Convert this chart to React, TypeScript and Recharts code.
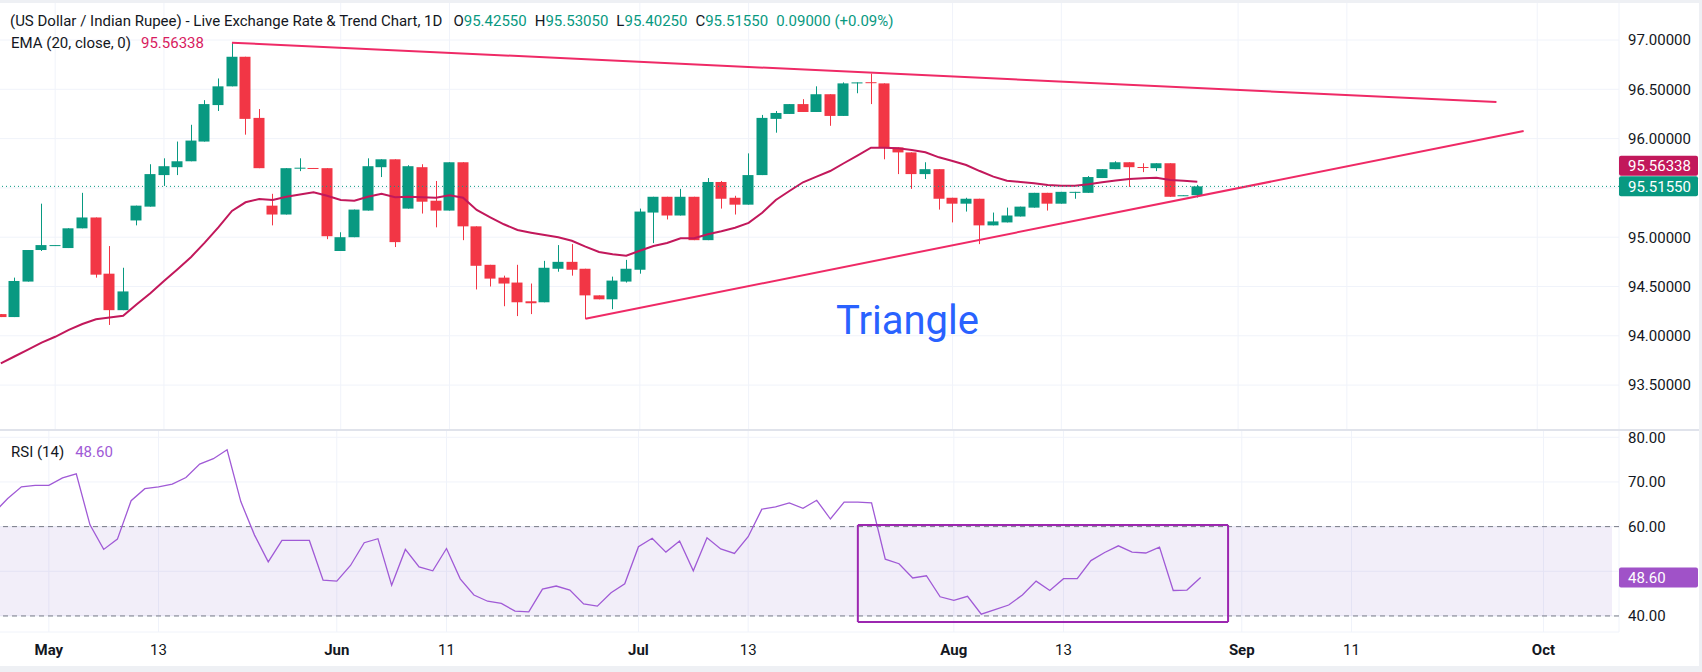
import React from "react";
import {
  ComposedChart,
  Bar,
  Line,
  XAxis,
  YAxis,
  CartesianGrid,
  ReferenceLine,
  ReferenceArea,
} from "recharts";

const GREEN = "#089981";
const RED = "#f23645";
const EMA_COLOR = "#c2185b";
const TREND_COLOR = "#ef2a66";
const RSI_COLOR = "#a05ad6";
const TEXT = "#131722";
const GRID = "#f0f3fa";

// one slot per trading day, plus empty space to the right of the last bar
const SLOTS = 119;

const tickIndex = [4, 12, 25, 33, 47, 55, 70, 78, 91, 99, 113];
const tickLabels = ["May", "13", "Jun", "11", "Jul", "13", "Aug", "13", "Sep", "11", "Oct"];

const priceTicks = [93.5, 94, 94.5, 95, 95.5, 96, 96.5, 97];
const rsiTicks = [40, 50, 60, 70, 80];
// scale labels covered by the last-value tags
const coveredPrice = [95.5];
const coveredRsi = [50];

const opens = [
  94.22, 94.19, 94.55, 94.87, 94.915, 94.89, 95.09, 95.2, 94.63, 94.26,
  95.17, 95.31, 95.63, 95.71, 95.77, 95.97, 96.34, 96.53, 96.83, 96.21,
  95.32, 95.23, 95.7, 95.702, 95.7, 94.86, 95.0, 95.27, 95.71, 95.79,
  95.29, 95.71, 95.37, 95.27, 95.76, 95.11, 94.72, 94.59, 94.54, 94.35,
  94.34, 94.68, 94.75, 94.68, 94.41, 94.37, 94.55, 94.67, 95.25, 95.41,
  95.22, 95.41, 94.97, 95.56, 95.4, 95.33, 95.63, 96.2, 96.25, 96.35,
  96.27, 96.45, 96.23, 96.565, 96.572, 96.56, 95.91, 95.86, 95.64, 95.69,
  95.4, 95.34, 95.39, 95.12, 95.15, 95.21, 95.3, 95.45, 95.34, 95.455,
  95.45, 95.6, 95.69, 95.76, 95.712, 95.7, 95.75, 95.42, 95.4255,
];
const highs = [
  94.22, 94.59, 94.87, 95.34, 94.92, 95.09, 95.45, 95.2, 94.91, 94.69,
  95.32, 95.74, 95.8, 95.97, 96.14, 96.39, 96.61, 96.97, 96.83, 96.3,
  95.44, 95.7, 95.8, 95.702, 95.7, 95.05, 95.28, 95.8, 95.79, 95.79,
  95.73, 95.74, 95.57, 95.76, 95.76, 95.11, 94.72, 94.61, 94.72, 94.53,
  94.76, 94.92, 94.93, 94.68, 94.41, 94.6, 94.77, 95.29, 95.41, 95.41,
  95.49, 95.41, 95.6, 95.57, 95.42, 95.85, 96.24, 96.28, 96.35, 96.4,
  96.53, 96.45, 96.57, 96.57, 96.66, 96.56, 95.91, 95.86, 95.76, 95.69,
  95.4, 95.4, 95.39, 95.25, 95.3, 95.31, 95.45, 95.45, 95.46, 95.46,
  95.62, 95.69, 95.77, 95.76, 95.75, 95.75, 95.75, 95.4255, 95.5305,
];
const lows = [
  94.19, 94.19, 94.55, 94.86, 94.915, 94.89, 95.09, 94.59, 94.11, 94.26,
  95.12, 95.31, 95.52, 95.63, 95.77, 95.97, 96.28, 96.53, 96.04, 95.7,
  95.12, 95.23, 95.67, 95.7, 94.98, 94.86, 95.0, 95.27, 95.61, 94.9,
  95.29, 95.24, 95.1, 95.27, 94.97, 94.47, 94.5, 94.3, 94.2, 94.22,
  94.34, 94.65, 94.61, 94.17, 94.37, 94.27, 94.54, 94.63, 94.94, 95.18,
  95.22, 94.97, 94.97, 95.29, 95.23, 95.33, 95.63, 96.06, 96.25, 96.27,
  96.27, 96.13, 96.23, 96.46, 96.35, 95.79, 95.64, 95.49, 95.59, 95.28,
  95.15, 95.26, 94.93, 95.12, 95.15, 95.21, 95.3, 95.27, 95.34, 95.39,
  95.45, 95.6, 95.69, 95.51, 95.66, 95.67, 95.41, 95.42, 95.4025,
];
const closes = [
  94.19, 94.556, 94.87, 94.92, 94.92, 95.09, 95.2, 94.62, 94.26, 94.45,
  95.32, 95.64, 95.72, 95.77, 95.98, 96.35, 96.53, 96.83, 96.2, 95.7,
  95.23, 95.7, 95.705, 95.7, 95.01, 95.0, 95.28, 95.72, 95.79, 94.95,
  95.72, 95.36, 95.27, 95.76, 95.11, 94.71, 94.58, 94.53, 94.34, 94.33,
  94.69, 94.75, 94.67, 94.41, 94.37, 94.56, 94.68, 95.26, 95.41, 95.22,
  95.41, 94.97, 95.56, 95.39, 95.33, 95.63, 96.21, 96.26, 96.35, 96.27,
  96.45, 96.23, 96.56, 96.57, 96.57, 95.91, 95.86, 95.64, 95.69, 95.39,
  95.34, 95.39, 95.12, 95.16, 95.22, 95.31, 95.45, 95.34, 95.46, 95.46,
  95.61, 95.69, 95.76, 95.71, 95.71, 95.75, 95.41, 95.4255, 95.5155,
];
const emaValues = [
  93.72, 93.79, 93.86, 93.93, 93.99, 94.06, 94.12, 94.167, 94.185, 94.204,
  94.32, 94.431, 94.555, 94.675, 94.8, 94.945, 95.1, 95.266, 95.354, 95.387,
  95.377, 95.411, 95.433, 95.455, 95.421, 95.377, 95.37, 95.411, 95.44, 95.405,
  95.411, 95.405, 95.401, 95.425, 95.401, 95.276, 95.202, 95.131, 95.073, 95.046,
  95.022, 94.999, 94.964, 94.904, 94.85, 94.827, 94.812, 94.863, 94.911, 94.941,
  94.989, 94.99, 95.03, 95.06, 95.096, 95.145, 95.248, 95.377, 95.469, 95.557,
  95.614, 95.671, 95.75, 95.827, 95.908, 95.908, 95.902, 95.884, 95.861, 95.81,
  95.773, 95.732, 95.671, 95.614, 95.573, 95.56, 95.547, 95.529, 95.522, 95.522,
  95.537, 95.557, 95.575, 95.59, 95.597, 95.603, 95.58, 95.573, 95.563,
];
const rsiValues = [
  63.1, 66.3, 68.9, 69.25, 69.25, 70.9, 71.8, 60.4, 54.9, 57.2,
  65.8, 68.5, 68.9, 69.5, 71.0, 74.0, 75.2, 77.2, 65.6, 58.1,
  52.1, 56.9, 56.9, 56.9, 48.0, 47.8, 51.3, 56.4, 57.3, 46.9,
  54.9, 51.0, 50.1, 55.1, 48.3, 44.7, 43.3, 42.8, 41.1, 40.9,
  46.0, 46.7, 45.8, 42.7, 42.2, 45.2, 47.2, 55.5, 57.4, 54.3,
  56.8, 50.1, 57.5, 55.0, 54.0, 57.75, 63.9, 64.4, 65.3, 64.1,
  65.9, 61.7, 65.5, 65.5, 65.3, 52.7, 51.7, 48.5, 49.0, 44.3,
  43.5, 44.4, 40.4, 41.4, 42.45, 44.7, 47.8, 45.7, 48.35, 48.35,
  52.4, 54.2, 55.7, 54.3, 54.1, 55.4, 45.7, 45.8, 48.6,
];

// trend lines drawn on the price pane: [bar index, price]
const upperTrend = [
  { x: 17, y: 96.973 },
  { x: 110, y: 96.371 },
];
const lowerTrend = [
  { x: 43, y: 94.173 },
  { x: 112, y: 96.077 },
];
// highlight box on the RSI pane
const rsiBox = { x1: 63, x2: 90, top: 60.37, bottom: 38.65 };

const lastClose = 95.5155;
const lastEma = 95.56338;
const lastRsi = 48.6;

const rows = Array.from({ length: SLOTS }, (_, i) => ({
  i,
  open: opens[i],
  high: highs[i],
  low: lows[i],
  close: closes[i],
  ema: emaValues[i],
  rsi: rsiValues[i],
}));

const candleRange = (d) => (d.high == null ? null : [d.low, d.high]);

function Candle(props) {
  const { x, y, width, height, payload } = props;
  if (!payload || payload.high == null) return null;
  const { open, close, high, low } = payload;
  const top = Math.min(y, y + height);
  const span = Math.abs(height);
  const range = high - low;
  const toY = (v) => (range === 0 ? top : top + ((high - v) / range) * span);
  const cx = Math.round(x + width / 2) + 0.5;
  const color = close >= open ? GREEN : RED;
  const bodyTop = toY(Math.max(open, close));
  const bodyBottom = toY(Math.min(open, close));
  return (
    <g>
      <line x1={cx} x2={cx} y1={top} y2={top + span} stroke={color} strokeWidth={1} />
      <rect
        x={cx - 0.5 - width / 2}
        y={bodyTop}
        width={width}
        height={Math.max(1, bodyBottom - bodyTop)}
        fill={color}
      />
    </g>
  );
}

function ScaleTag(props) {
  const { viewBox, text, fill, shift = 0 } = props;
  if (!viewBox) return null;
  const left = viewBox.x + viewBox.width;
  const cy = viewBox.y + shift;
  return (
    <g>
      <rect x={left} y={cy - 10} width={79} height={20} rx={2} fill={fill} />
      <text x={left + 9} y={cy} dy="0.355em" fill="#ffffff" fontSize={15}>
        {text}
      </text>
    </g>
  );
}

function ScaleTick(props) {
  const { x, y, payload, digits, covered } = props;
  if (covered.includes(payload.value)) return null;
  return (
    <text x={x} y={y} dy="0.355em" textAnchor="start" fill={TEXT} fontSize={15}>
      {payload.value.toFixed(digits)}
    </text>
  );
}

function DateTick(props) {
  const { x, y, payload } = props;
  const label = tickLabels[tickIndex.indexOf(payload.value)];
  const isMonth = isNaN(Number(label));
  return (
    <text
      x={x}
      y={y + 23}
      textAnchor="middle"
      fill={TEXT}
      fontSize={15}
      fontWeight={isMonth ? 700 : 400}
    >
      {label}
    </text>
  );
}

const margin = { top: 0, right: 0, bottom: 0, left: -6 };

export default function App() {
  return (
    <div
      style={{
        position: "absolute",
        left: 0,
        top: 0,
        width: 1702,
        height: 672,
        overflow: "hidden",
        background: "#ffffff",
        fontFamily: "Roboto, 'Noto Sans', sans-serif",
        color: TEXT,
      }}
    >
      {/* Price pane */}
      <div style={{ position: "absolute", left: 0, top: 0 }}>
        <ComposedChart width={1702} height={430} data={rows} margin={margin}>
          <CartesianGrid stroke={GRID} />
          <XAxis
            dataKey="i"
            type="category"
            hide
            ticks={tickIndex}
            interval={0}
            padding={{ left: 0, right: 7 }}
          />
          <YAxis
            orientation="right"
            width={83}
            domain={[93.0446, 97.4057]}
            allowDataOverflow
            ticks={priceTicks}
            interval={0}
            axisLine={false}
            tickLine={false}
            tickSize={0}
            tickMargin={9}
            tick={<ScaleTick digits={5} covered={coveredPrice} />}
          />
          <Bar
            dataKey={candleRange}
            barSize={11}
            shape={<Candle />}
            isAnimationActive={false}
          />
          <Line
            dataKey="ema"
            stroke={EMA_COLOR}
            strokeWidth={2}
            dot={false}
            activeDot={false}
            isAnimationActive={false}
          />
          <ReferenceLine segment={upperTrend} stroke={TREND_COLOR} strokeWidth={2} />
          <ReferenceLine segment={lowerTrend} stroke={TREND_COLOR} strokeWidth={2} />
          <ReferenceLine
            y={lastEma}
            stroke="none"
            label={<ScaleTag text="95.56338" fill={EMA_COLOR} shift={-16} />}
          />
          <ReferenceLine
            y={lastClose}
            stroke={GREEN}
            strokeDasharray="1 3"
            label={<ScaleTag text="95.51550" fill={GREEN} />}
          />
        </ComposedChart>
      </div>

      {/* RSI pane */}
      <div style={{ position: "absolute", left: 0, top: 430 }}>
        <ComposedChart width={1702} height={242} data={rows} margin={margin}>
          <CartesianGrid stroke={GRID} />
          <XAxis
            dataKey="i"
            type="category"
            height={40}
            ticks={tickIndex}
            interval={0}
            padding={{ left: 0, right: 7 }}
            axisLine={false}
            tickLine={false}
            tickSize={0}
            tickMargin={0}
            tick={<DateTick />}
          />
          <YAxis
            orientation="right"
            width={83}
            domain={[36.41, 81.63]}
            allowDataOverflow
            ticks={rsiTicks}
            interval={0}
            axisLine={false}
            tickLine={false}
            tickSize={0}
            tickMargin={9}
            tick={<ScaleTick digits={2} covered={coveredRsi} />}
          />
          <ReferenceArea y1={40} y2={60} fill="#7e57c2" fillOpacity={0.1} stroke="none" />
          <ReferenceLine y={60} stroke="#787b86" strokeDasharray="5 4" />
          <ReferenceLine y={40} stroke="#787b86" strokeDasharray="5 4" />
          <Line
            dataKey="rsi"
            stroke={RSI_COLOR}
            strokeWidth={1.3}
            dot={false}
            activeDot={false}
            isAnimationActive={false}
          />
          <ReferenceLine
            segment={[{ x: rsiBox.x1, y: rsiBox.top }, { x: rsiBox.x2, y: rsiBox.top }]}
            stroke="#9c27b0"
            strokeWidth={2}
          />
          <ReferenceLine
            segment={[{ x: rsiBox.x1, y: rsiBox.bottom }, { x: rsiBox.x2, y: rsiBox.bottom }]}
            stroke="#9c27b0"
            strokeWidth={2}
          />
          <ReferenceLine
            segment={[{ x: rsiBox.x1, y: rsiBox.top }, { x: rsiBox.x1, y: rsiBox.bottom }]}
            stroke="#9c27b0"
            strokeWidth={2}
          />
          <ReferenceLine
            segment={[{ x: rsiBox.x2, y: rsiBox.top }, { x: rsiBox.x2, y: rsiBox.bottom }]}
            stroke="#9c27b0"
            strokeWidth={2}
          />
          <ReferenceLine
            y={lastRsi}
            stroke="none"
            label={<ScaleTag text="48.60" fill="#a052c8" />}
          />
        </ComposedChart>
      </div>

      {/* Pane separator and frame */}
      <div style={{ position: "absolute", left: 0, top: 429, width: 1702, height: 2, background: "#e0e3eb" }} />
      <div style={{ position: "absolute", left: 0, top: 0, width: 1702, height: 3, background: "#eef0f4" }} />
      <div style={{ position: "absolute", left: 0, top: 666, width: 1702, height: 6, background: "#eef0f4" }} />
      <div style={{ position: "absolute", left: 1699, top: 0, width: 3, height: 672, background: "#eef0f4" }} />

      {/* Legends */}
      <div style={{ position: "absolute", left: 10, top: 11, fontSize: 15, lineHeight: "20px", whiteSpace: "nowrap" }}>
        (US Dollar / Indian Rupee) - Live Exchange Rate &amp; Trend Chart, 1D
        <span style={{ marginLeft: 11 }}>O</span>
        <span style={{ color: GREEN }}>95.42550</span>
        <span style={{ marginLeft: 8 }}>H</span>
        <span style={{ color: GREEN }}>95.53050</span>
        <span style={{ marginLeft: 8 }}>L</span>
        <span style={{ color: GREEN }}>95.40250</span>
        <span style={{ marginLeft: 8 }}>C</span>
        <span style={{ color: GREEN }}>95.51550</span>
        <span style={{ marginLeft: 8, color: GREEN }}>0.09000 (+0.09%)</span>
      </div>
      <div style={{ position: "absolute", left: 11, top: 33, fontSize: 15, lineHeight: "20px", whiteSpace: "nowrap" }}>
        EMA (20, close, 0)
        <span style={{ marginLeft: 10, color: "#d81b60" }}>95.56338</span>
      </div>
      <div style={{ position: "absolute", left: 11, top: 442, fontSize: 15, lineHeight: "20px", whiteSpace: "nowrap" }}>
        RSI (14)
        <span style={{ marginLeft: 11, color: RSI_COLOR }}>48.60</span>
      </div>

      {/* Drawing label */}
      <div style={{ position: "absolute", left: 836, top: 301, fontSize: 40, lineHeight: "40px", color: "#2962ff" }}>
        Triangle
      </div>
    </div>
  );
}
